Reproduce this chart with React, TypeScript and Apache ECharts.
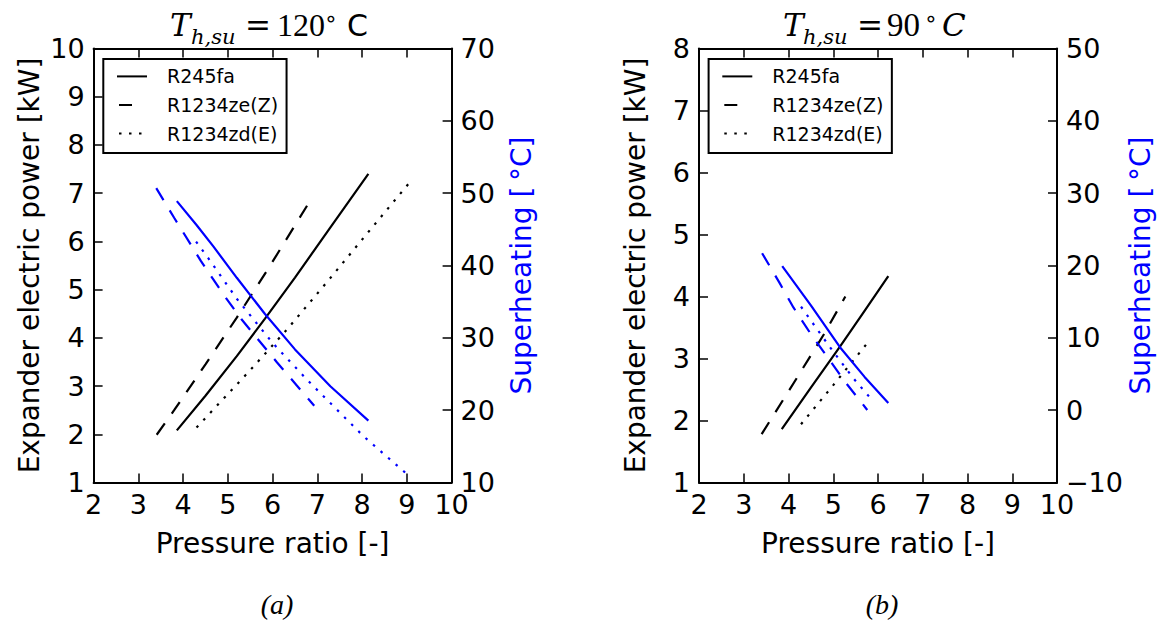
import React, { useEffect, useRef } from "react";
import * as echarts from "echarts";

// ---------- Data ----------
const legendNames = ["R245fa", "R1234ze(Z)", "R1234zd(E)"];

// Panel (a): T_h,su = 120 °C
const aPowerR245fa: number[][] = [[3.86, 2.08], [4.5, 2.8], [5.2, 3.62], [5.83, 4.4], [6.5, 5.25], [7.3, 6.3], [8.14, 7.4]];
const aPowerR1234zeZ: number[][] = [[3.41, 1.99], [3.8, 2.5], [4.5, 3.45], [5.2, 4.42], [5.9, 5.43], [6.85, 6.86]];
const aPowerR1234zdE: number[][] = [[4.3, 2.14], [5.5, 3.33], [6.3, 4.15], [7.21, 5.15], [8.1, 6.15], [9.07, 7.23]];
const aShR245fa: number[][] = [[3.86, 48.9], [4.3, 45.6], [4.68, 42.6], [5.2, 38.3], [5.83, 33.3], [6.5, 28.4], [7.29, 23.3], [8.14, 18.55]];
const aShR1234zeZ: number[][] = [[3.4, 50.7], [3.8, 46.6], [4.4, 40.6], [4.9, 36.0], [5.3, 32.6], [6.1, 26.6], [6.93, 20.6]];
const aShR1234zdE: number[][] = [[4.29, 43.3], [4.57, 40.95], [5.2, 35.4], [6.0, 29.3], [6.77, 24.2], [8.03, 16.4], [9.02, 11.06]];

// Panel (b): T_h,su = 90 °C
const bPowerR245fa: number[][] = [[3.85, 1.86], [4.5, 2.53], [5.15, 3.19], [5.7, 3.77], [6.23, 4.33]];
const bPowerR1234zeZ: number[][] = [[3.4, 1.78], [4.19, 2.69], [4.8, 3.4], [5.27, 4.0]];
const bPowerR1234zdE: number[][] = [[4.28, 1.94], [5.0, 2.57], [5.82, 3.3]];
const bShR245fa: number[][] = [[3.86, 19.9], [4.5, 14.5], [5.15, 8.7], [5.7, 4.6], [6.23, 1.0]];
const bShR1234zeZ: number[][] = [[3.41, 21.7], [3.8, 17.6], [4.11, 14.2], [4.48, 10.7], [4.89, 7.16], [5.29, 3.71], [5.76, 0.03]];
const bShR1234zdE: number[][] = [[4.28, 14.3], [4.93, 8.68], [5.45, 4.4], [5.88, 1.31]];

// Axis ranges
const xRange = [2, 10];
const aPowerRange = [1, 10];
const aShRange = [10, 70];
const bPowerRange = [1, 8];
const bShRange = [-10, 50];

// ---------- Styles ----------
const BLACK = "#000000";
const BLUE = "#0000ff";
const DASH = [14, 12];
const DOT = [2.5, 7.5];
const SANS = "DejaVu Sans";

const GRID_TOP = 48.5;
const GRID_H = 434;
const GRID_W = 358;
const PANEL_LEFT = [93.6, 699];

function tickFmt(v: number) {
  return String(v).replace("-", "\u2212");
}

function makeAxes(p: number, pRange: number[], sRange: number[]) {
  const tick = { show: true, inside: true, length: 9, lineStyle: { color: BLACK, width: 1.5 } };
  const line = { show: true, onZero: false, lineStyle: { color: BLACK, width: 2 } };
  const label = { fontSize: 27, color: BLACK, fontFamily: SANS, formatter: tickFmt };
  const xAxes = [
    {
      gridIndex: p, type: "value", min: xRange[0], max: xRange[1], interval: 1, position: "bottom",
      axisLine: line, axisTick: tick, axisLabel: { ...label, margin: 8 }, splitLine: { show: false },
      name: "Pressure ratio [-]", nameLocation: "middle", nameGap: 47,
      nameTextStyle: { fontSize: 28, color: BLACK, fontFamily: SANS },
    },
    {
      gridIndex: p, type: "value", min: xRange[0], max: xRange[1], interval: 1, position: "top",
      axisLine: line, axisTick: tick, axisLabel: { show: false }, splitLine: { show: false },
    },
  ];
  const yAxes = [
    {
      gridIndex: p, type: "value", min: pRange[0], max: pRange[1], interval: 1, position: "left",
      axisLine: line, axisTick: tick, axisLabel: { ...label, margin: 9 }, splitLine: { show: false },
      name: "Expander electric power [kW]", nameLocation: "middle", nameRotate: 90, nameGap: 50,
      nameTextStyle: { fontSize: 28, color: BLACK, fontFamily: SANS },
    },
    {
      gridIndex: p, type: "value", min: sRange[0], max: sRange[1], interval: 10, position: "right",
      axisLine: line, axisTick: tick, axisLabel: { ...label, margin: 9 }, splitLine: { show: false },
      name: "Superheating [\u2009°C]", nameLocation: "middle", nameRotate: 90, nameGap: 56,
      nameTextStyle: { fontSize: 28, color: BLUE, fontFamily: SANS },
    },
  ];
  return { xAxes, yAxes };
}

function lineSeries(name: string, data: number[][], xi: number, yi: number, color: string, type: any) {
  return {
    name, type: "line", data, xAxisIndex: xi, yAxisIndex: yi, symbol: "none",
    lineStyle: { color, width: 2.2, type }, itemStyle: { color }, z: color === BLUE ? 3 : 2,
  };
}

function legendFor(left: number) {
  return {
    data: [
      { name: legendNames[0] },
      { name: legendNames[1], lineStyle: { type: [13, 40], dashOffset: -2 } },
      { name: legendNames[2], lineStyle: { type: [2.5, 7.5], dashOffset: -2 } },
    ],
    orient: "vertical", left, top: 59, itemWidth: 30, itemHeight: 14, itemGap: 6.6,
    padding: [6.4, 8.5, 8.3, 12.7], borderColor: BLACK, borderWidth: 2, backgroundColor: "#fff",
    selectedMode: false,
    itemStyle: { opacity: 0, borderWidth: 0 },
    textStyle: { fontSize: 19, fontFamily: SANS, color: BLACK, lineHeight: 22, padding: [0, 0, 0, 15] },
  };
}

function titlePieces(panel: "a" | "b") {
  const serif = "DejaVu Serif";
  const t = (x: number, y: number, text: string, font: string, align = "left") => ({
    type: "text", x, y, silent: true,
    style: { text, font, fill: BLACK, align, verticalAlign: "middle" },
  });
  if (panel === "a") {
    return [
      t(170, 25, "T", `italic 31px "${serif}"`),
      t(191, 37, "h,su", `italic 21px "${serif}"`),
      t(245, 25, "=", `31px "${serif}"`),
      t(277, 25, "120", `32px "Liberation Serif"`),
      t(331, 18, "\u2218", `22px "${SANS}"`, "center"),
      t(347, 25, "C", `30px "${SANS}"`),
    ];
  }
  return [
    t(783, 25, "T", `italic 31px "${serif}"`),
    t(803, 37, "h,su", `italic 21px "${serif}"`),
    t(857, 25, "=", `31px "${serif}"`),
    t(887, 25, "90", `33px "Liberation Serif"`),
    t(931, 18, "\u2218", `22px "${SANS}"`, "center"),
    t(942, 25, "C", `italic 31px "${serif}"`),
  ];
}

export default function App() {
  const ref = useRef<HTMLDivElement>(null);
  useEffect(() => {
    const chart = echarts.init(ref.current!, null, { renderer: "svg" });
    const A = makeAxes(0, aPowerRange, aShRange);
    const B = makeAxes(1, bPowerRange, bShRange);
    const option: any = {
      animation: false,
      backgroundColor: "#ffffff",
      grid: PANEL_LEFT.map((l) => ({ left: l, top: GRID_TOP, width: GRID_W, height: GRID_H, containLabel: false })),
      xAxis: [...A.xAxes, ...B.xAxes],
      yAxis: [...A.yAxes, ...B.yAxes],
      legend: [legendFor(103.3), legendFor(708.6)],
      series: [
        lineSeries("R245fa", aPowerR245fa, 0, 0, BLACK, "solid"),
        lineSeries("R1234ze(Z)", aPowerR1234zeZ, 0, 0, BLACK, DASH),
        lineSeries("R1234zd(E)", aPowerR1234zdE, 0, 0, BLACK, DOT),
        lineSeries("R245fa superheating (a)", aShR245fa, 0, 1, BLUE, "solid"),
        lineSeries("R1234ze(Z) superheating (a)", aShR1234zeZ, 0, 1, BLUE, DASH),
        lineSeries("R1234zd(E) superheating (a)", aShR1234zdE, 0, 1, BLUE, DOT),
        lineSeries("R245fa", bPowerR245fa, 2, 2, BLACK, "solid"),
        lineSeries("R1234ze(Z)", bPowerR1234zeZ, 2, 2, BLACK, DASH),
        lineSeries("R1234zd(E)", bPowerR1234zdE, 2, 2, BLACK, DOT),
        lineSeries("R245fa superheating (b)", bShR245fa, 2, 3, BLUE, "solid"),
        lineSeries("R1234ze(Z) superheating (b)", bShR1234zeZ, 2, 3, BLUE, DASH),
        lineSeries("R1234zd(E) superheating (b)", bShR1234zdE, 2, 3, BLUE, DOT),
      ],
      graphic: [
        ...titlePieces("a"),
        ...titlePieces("b"),
        { type: "text", x: 277, y: 604, silent: true, style: { text: "(a)", font: 'italic 28px "Liberation Serif"', fill: BLACK, align: "center", verticalAlign: "middle" } },
        { type: "text", x: 882, y: 604, silent: true, style: { text: "(b)", font: 'italic 28px "Liberation Serif"', fill: BLACK, align: "center", verticalAlign: "middle" } },
      ],
    };
    chart.setOption(option);
    return () => chart.dispose();
  }, []);
  return (
    <div
      ref={ref}
      style={{ position: "fixed", left: 0, top: 0, width: 1169, height: 623, background: "#fff" }}
    />
  );
}
